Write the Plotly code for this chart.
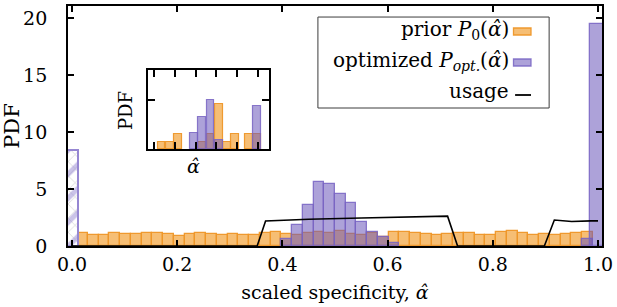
import plotly.graph_objects as go

# ---------------- data ----------------
# histogram bins (48 equal bins between 0.01 and 0.99)
bin_lo, bin_hi, n_bins = 0.01, 0.99, 48
prior_pdf = [1.10, 1.00, 1.00, 1.15, 1.05, 1.05, 1.10, 1.10, 1.05, 0.90,
             1.05, 1.15, 1.05, 0.95, 1.05, 1.00, 1.00, 1.10, 1.25, 1.05,
             1.00, 1.10, 1.20, 1.10, 1.30, 1.05, 1.00, 1.10, 0.80, 1.20,
             1.25, 1.10, 1.05, 1.00, 1.05, 1.10, 1.15, 1.00, 1.00, 1.20,
             1.30, 1.10, 1.00, 1.05, 1.00, 1.05, 1.15, 1.20]
opt_pdf = [None] * 19 + [0.60, 1.80, 3.60, 5.65, 5.45, 4.60, 3.80, 2.10, 1.25, 0.80, 0.30] \
          + [None] * 17 + [0.60]
# delta peaks of the optimized distribution at the edges
opt_edge_x = [0.0, 1.0]
opt_edge_pdf = [8.4, 19.5]

# usage curve
usage_x = [0.0, 0.352, 0.368, 0.45, 0.55, 0.65, 0.714, 0.733, 0.898, 0.917, 0.95, 0.987, 1.0]
usage_y = [0.0, 0.0, 2.20, 2.35, 2.45, 2.55, 2.62, 0.0, 0.0, 2.28, 2.15, 2.20, 2.20]

# inset histograms
inset_prior_x = [0.36, 0.76, 1.16, 2.32, 2.72, 3.12, 3.50, 3.88, 4.57, 4.97]
inset_prior_y = [0.15, 0.15, 0.30, 0.15, 0.30, 0.91, 0.15, 0.30, 0.30, 0.30]
inset_opt_x = [1.92, 2.32, 2.72, 3.12, 4.97]
inset_opt_y = [0.32, 0.66, 1.00, 0.19, 0.88]

x_ticks = [0.0, 0.2, 0.4, 0.6, 0.8, 1.0]
x_ticktext = ["0.0", "0.2", "0.4", "0.6", "0.8", "1.0"]
y_ticks = [0, 5, 10, 15, 20]

AH = "<i>α̂</i>"
legend_labels = ["prior <i>P</i><sub>0</sub>(" + AH + ")",
                 "optimized <i>P</i><sub><i>opt.</i></sub>(" + AH + ")",
                 "usage"]

# ---------------- styles ----------------
FONT = "DejaVu Serif"
OR_FILL = "rgba(240,150,30,0.62)"
OR_LINE = "rgba(238,150,40,0.95)"
PU_FILL = "rgba(105,85,185,0.55)"
PU_LINE = "rgba(120,100,195,0.85)"

binw = (bin_hi - bin_lo) / n_bins
centers = [bin_lo + (i + 0.5) * binw for i in range(n_bins)]

fig = go.Figure()

fig.add_trace(go.Bar(x=centers, y=prior_pdf, width=binw,
                     marker=dict(color=OR_FILL, line=dict(color=OR_LINE, width=1.3)),
                     showlegend=False))
fig.add_trace(go.Bar(x=centers, y=opt_pdf, width=binw,
                     marker=dict(color=PU_FILL, line=dict(color=PU_LINE, width=1.3)),
                     showlegend=False))
# hatched bar at 0 (thin grey cross hatch + thick purple stripes)
fig.add_trace(go.Bar(x=opt_edge_x[:1], y=opt_edge_pdf[:1], width=0.022,
                     marker=dict(color="rgba(0,0,0,0)",
                                 pattern=dict(shape="x", fgcolor="rgba(140,140,140,0.9)",
                                              bgcolor="white", size=10, solidity=0.12,
                                              fillmode="overlay"),
                                 line=dict(width=0)),
                     showlegend=False))
fig.add_trace(go.Bar(x=opt_edge_x[:1], y=opt_edge_pdf[:1], width=0.022,
                     marker=dict(color="rgba(0,0,0,0)",
                                 pattern=dict(shape="/", fgcolor="rgb(150,135,210)",
                                              bgcolor="rgba(0,0,0,0)", size=17, solidity=0.3,
                                              fillmode="overlay"),
                                 line=dict(color="rgb(150,135,210)", width=2)),
                     showlegend=False))
fig.add_trace(go.Bar(x=opt_edge_x[1:], y=opt_edge_pdf[1:], width=0.03,
                     marker=dict(color=PU_FILL, line=dict(color=PU_LINE, width=1.3)),
                     showlegend=False))
fig.add_trace(go.Scatter(x=usage_x, y=usage_y, mode="lines",
                         line=dict(color="black", width=1.6), showlegend=False))

# inset
fig.add_trace(go.Bar(x=inset_prior_x, y=inset_prior_y, width=0.38,
                     marker=dict(color=OR_FILL, line=dict(color=OR_LINE, width=1.2)),
                     xaxis="x2", yaxis="y2", showlegend=False))
fig.add_trace(go.Bar(x=inset_opt_x, y=inset_opt_y, width=0.38,
                     marker=dict(color=PU_FILL, line=dict(color=PU_LINE, width=1.2)),
                     xaxis="x2", yaxis="y2", showlegend=False))

axis_common = dict(showgrid=False, zeroline=False, showline=True, linecolor="black",
                   linewidth=1.8, ticks="inside", tickcolor="black", tickwidth=1.8,
                   mirror="ticks", automargin=False)

fig.update_layout(
    width=617, height=307,
    margin=dict(l=68, r=15, t=6, b=61),
    paper_bgcolor="white", plot_bgcolor="white",
    barmode="overlay", bargap=0,
    font=dict(family=FONT, size=19, color="black"),
    xaxis=dict(**axis_common, range=[-0.0076, 1.0076], tickvals=x_ticks,
               ticktext=x_ticktext, ticklen=6, ticklabelstandoff=0,
               title=dict(text="scaled specificity, " + AH, standoff=12,
                          font=dict(size=19))),
    yaxis=dict(**axis_common, range=[0, 21.05], tickvals=y_ticks, ticklen=6,
               ticklabelstandoff=15,
               title=dict(text="PDF", standoff=5, font=dict(size=21))),
    xaxis2=dict(**axis_common, domain=[0.150, 0.376], anchor="y2",
                range=[-0.29, 5.52], tickvals=[0, 1, 2, 3, 4, 5], ticklen=7,
                showticklabels=False),
    yaxis2=dict(**axis_common, domain=[0.403, 0.733], anchor="x2",
                range=[0, 1.61], tickvals=[1], ticklen=7, showticklabels=False),
)

# inset labels
fig.add_annotation(text="PDF", xref="paper", yref="paper", x=(125 - 68) / 534,
                   y=(246 - 111) / 240, textangle=-90, showarrow=False,
                   font=dict(size=18), xanchor="center", yanchor="middle")
fig.add_annotation(text=AH, xref="paper", yref="paper", x=(193.5 - 68) / 534,
                   y=(246 - 166) / 240, showarrow=False, font=dict(size=19),
                   xanchor="center", yanchor="middle")

# manual legend (text right-aligned, swatch on the right)
fig.add_shape(type="rect", xref="paper", yref="paper", x0=0.468, x1=0.901,
              y0=0.575, y1=0.954, line=dict(color="rgb(60,60,60)", width=1),
              fillcolor="white", layer="above")
row_y = [(246 - 30.5) / 240, (246 - 61) / 240, (246 - 91.5) / 240]
for lbl, yy in zip(legend_labels, row_y):
    fig.add_annotation(text=lbl, xref="paper", yref="paper", x=0.830, y=yy,
                       xanchor="right", yanchor="middle", showarrow=False,
                       font=dict(size=20))
sw_x0, sw_x1 = (513.5 - 68) / 534, (531 - 68) / 534
fig.add_shape(type="rect", xref="paper", yref="paper", x0=sw_x0, x1=sw_x1,
              y0=(246 - 35) / 240, y1=(246 - 28) / 240,
              fillcolor=OR_FILL, line=dict(color=OR_LINE, width=1.3), layer="above")
fig.add_shape(type="rect", xref="paper", yref="paper", x0=sw_x0, x1=sw_x1,
              y0=(246 - 66) / 240, y1=(246 - 59) / 240,
              fillcolor=PU_FILL, line=dict(color=PU_LINE, width=1.3), layer="above")
fig.add_shape(type="line", xref="paper", yref="paper", x0=sw_x0 + 0.003, x1=sw_x1,
              y0=(246 - 95) / 240, y1=(246 - 95) / 240,
              line=dict(color="black", width=1.8), layer="above")

fig.write_html("out.html", config={"displayModeBar": False},
               post_script="document.body.style.margin='0';")
